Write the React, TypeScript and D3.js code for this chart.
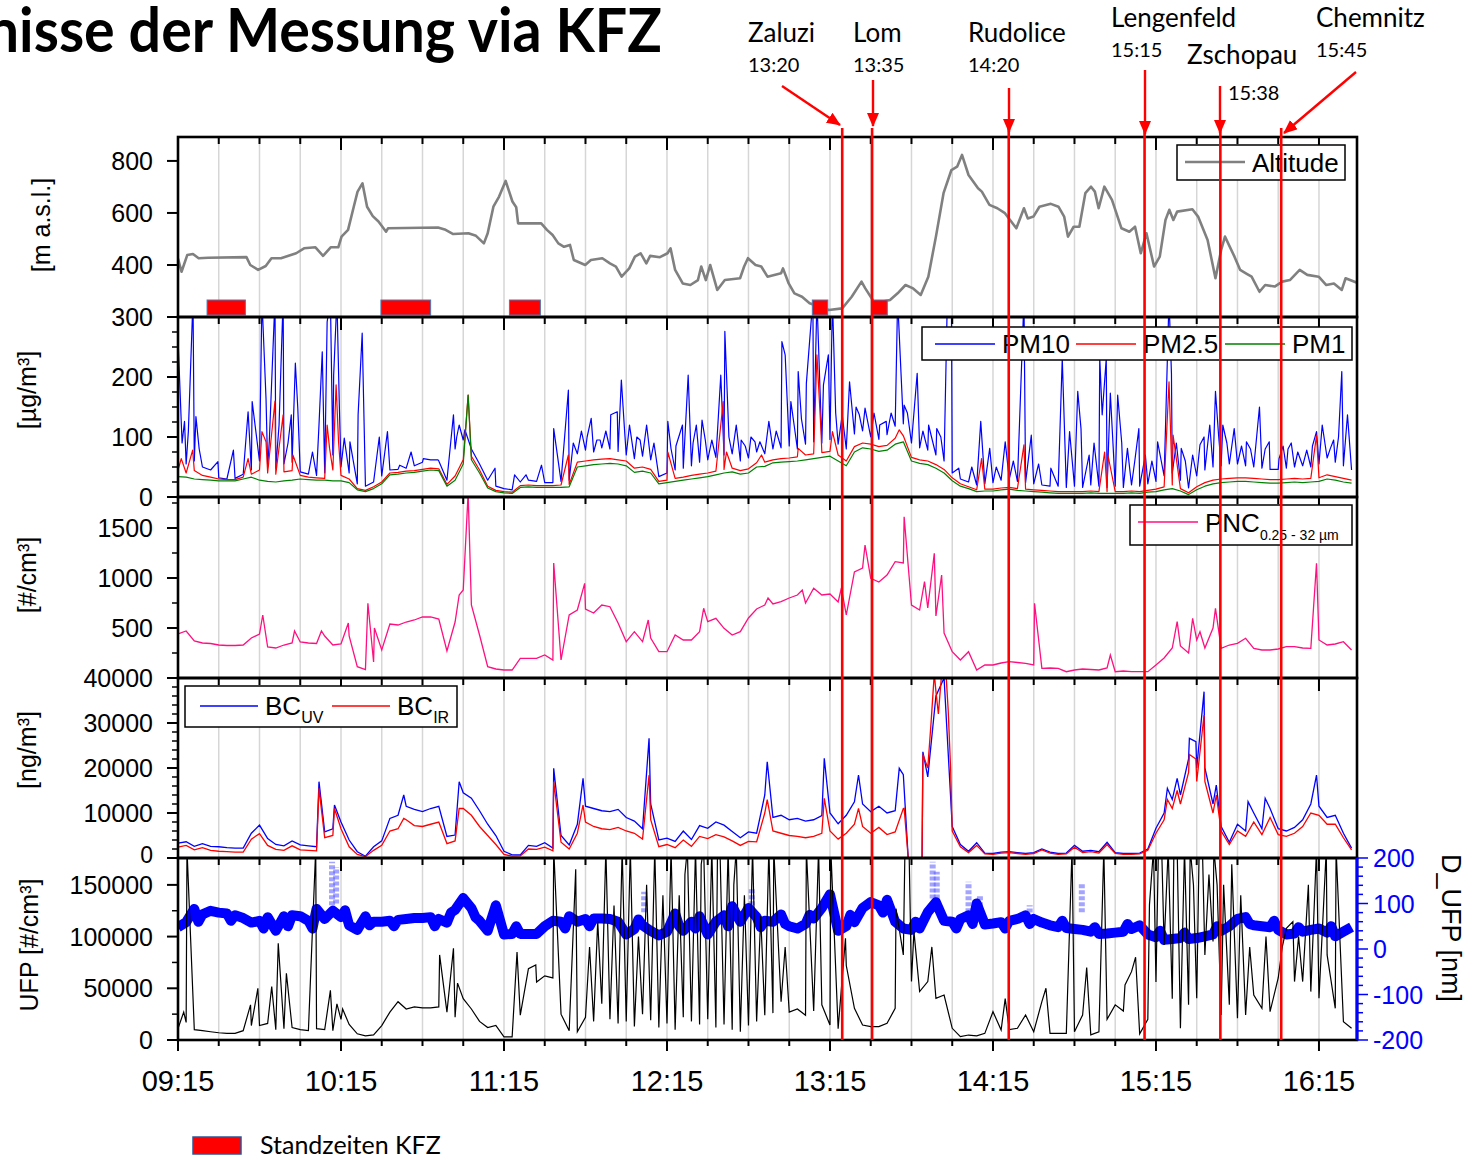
import React from 'react';
import * as d3 from 'd3';

type Pt = [number, number];

// Sampled series hold one value every 3 minutes, index 0 = 09:15.
const SAMPLE_MINUTES = 3;
const SPAN_MINUTES = 434; // 09:15 .. 16:29

const hourLabels = ['09:15', '10:15', '11:15', '12:15', '13:15', '14:15', '15:15', '16:15'];

// Altitude track: [minutes after 09:15, m a.s.l.]
const altitudeTrack: Pt[] = [
  [0, 425], [1.3, 374], [3.4, 438], [5.5, 442], [7.6, 426], [11.1, 428], [25.2, 430], [26.6, 400], [29.5, 381],
  [32.3, 396], [34.4, 426], [37.9, 426], [43.5, 445], [46.4, 464], [50.6, 468], [53.4, 435], [56.2, 468], [59.0, 468],
  [60.2, 509], [62.6, 535], [64.7, 624], [66.1, 682], [67.9, 714], [69.6, 624], [71.7, 588], [73.8, 567], [76.6, 528],
  [77.3, 541], [95.7, 544], [98.5, 535], [101.3, 519], [106.9, 522], [109.7, 512], [112.6, 483], [114.0, 522],
  [116.1, 624], [118.2, 663], [120.6, 723], [123.1, 644], [124.5, 622], [125.2, 560], [133.7, 560], [135.8, 535],
  [137.9, 515], [140.0, 483], [142.1, 470], [144.3, 477], [145.7, 419], [149.9, 400], [152.0, 419], [156.2, 426],
  [159.0, 406], [161.2, 394], [163.3, 355], [166.1, 387], [168.2, 432], [170.3, 445], [172.4, 406], [173.8, 435],
  [177.4, 430], [180.2, 445], [181.3, 464], [183.0, 381], [185.8, 329], [188.6, 323], [191.4, 342], [192.6, 394],
  [194.3, 342], [195.9, 400], [198.5, 304], [201.3, 342], [206.9, 349], [208.4, 394], [209.8, 426], [212.6, 400],
  [214.7, 394], [217.0, 355], [222.0, 368], [222.7, 387], [224.8, 329], [226.9, 291], [229.7, 278], [232.5, 253],
  [239.6, 227], [244.5, 233], [248.0, 278], [251.6, 336], [253.0, 310], [256.5, 253], [262.1, 265], [264.9, 291],
  [267.8, 323], [270.6, 310], [273.4, 285], [276.2, 355], [279.0, 509], [281.8, 676], [284.7, 765], [286.8, 778],
  [288.6, 823], [291.0, 746], [294.5, 695], [295.9, 682], [298.7, 631], [301.6, 618], [304.4, 599], [308.6, 541],
  [311.4, 618], [312.8, 579], [314.9, 586], [317.1, 624], [321.3, 635], [324.1, 624], [326.2, 586], [327.6, 509],
  [329.7, 547], [331.8, 547], [334.0, 676], [336.1, 701], [337.5, 682], [338.9, 618], [341.0, 701], [343.8, 650],
  [347.3, 541], [350.2, 528], [352.3, 547], [354.4, 445], [356.5, 522], [359.3, 394], [361.4, 432], [363.5, 573],
  [364.9, 612], [366.4, 573], [367.8, 605], [373.4, 614], [375.5, 586], [379.0, 496], [381.9, 349], [384.0, 458],
  [385.4, 509], [388.9, 432], [391.0, 381], [393.1, 368], [395.2, 355], [398.1, 297], [400.2, 323], [403.7, 317],
  [406.5, 336], [409.3, 342], [412.9, 381], [415.7, 362], [419.9, 355], [422.7, 323], [425.5, 329], [428.4, 304],
  [429.8, 349], [434.0, 332],
];

// Vehicle standing times: [start, end] in minutes after 09:15
const standIntervals: Pt[] = [[10.7, 24.8], [74.7, 93.0], [122.0, 133.4], [233.5, 239.2], [255.3, 261.1]];

// Places passed: minutes after 09:15 where the marker is drawn
const places = [
  { name: 'Zaluzi', time: '13:20', at: 244.5 },
  { name: 'Lom', time: '13:35', at: 255.5 },
  { name: 'Rudolice', time: '14:20', at: 305.8 },
  { name: 'Lengenfeld', time: '15:15', at: 355.8 },
  { name: 'Zschopau', time: '15:38', at: 383.7 },
  { name: 'Chemnitz', time: '15:45', at: 406.1 },
];

// Particulate matter [µg/m³]; peaks are [sample index, value]
const pm10 = [
  70, 55, 60, 50, 45, 32, 30, 31, 38, 45, 60, 50, 48, 55, 58, 42, 38, 36, 40, 70, 50, 40, 22, 18, 25,
  35, 45, 46, 48, 52, 58, 62, 60, 28, 80, 95, 80, 55, 28, 18, 14, 12, 25, 28, 26, 24, 24, 26, 28, 72,
  78, 75, 82, 80, 76, 70, 64, 68, 62, 34, 40, 45, 48, 52, 58, 62, 66, 70, 72, 60, 65, 75, 72, 80, 82,
  85, 80, 88, 92, 90, 96, 88, 80, 105, 110, 100, 96, 104, 118, 122, 90, 82, 78, 70, 60, 40, 30, 25, 20, 22,
  24, 28, 30, 26, 24, 22, 20, 18, 18, 16, 18, 16, 20, 18, 16, 18, 16, 20, 18, 22, 26, 35, 40, 28, 15,
  35, 45, 50, 52, 55, 55, 52, 50, 48, 46, 46, 48, 50, 52, 50, 55, 65, 58, 52, 45,
];
const pm10Peaks: Pt[] = [
  [0.05, 248], [0.5, 90], [0.8, 126], [1.27, 109], [1.84, 330], [2.2, 134], [2.6, 80], [4.9, 59], [6.8, 78], [8.6, 142], [9.1, 159],
  [10.3, 330], [10.8, 164], [11.2, 92], [11.9, 330], [12.4, 120], [12.9, 330], [13.5, 90], [13.9, 137], [14.4, 223], [14.7, 148],
  [16.5, 75], [17.3, 120], [17.7, 242], [18.3, 292], [18.7, 330], [19.1, 203], [19.5, 330], [19.8, 150], [20.4, 98], [21.1, 92], [22.1, 137], [22.6, 273],
  [24.7, 100], [25.7, 109], [27.2, 53], [28.6, 75], [30.1, 64], [31.9, 62], [33.8, 137], [34.2, 100], [34.5, 120], [35.2, 112],
  [38.9, 48], [41.3, 37], [42.7, 37], [44.6, 53], [46.1, 114], [47.9, 178], [48.5, 90], [49.5, 110], [50.2, 100], [50.7, 131],
  [51.4, 95], [51.8, 95], [52.5, 110], [53.1, 137], [53.9, 142], [54.4, 195], [54.8, 110], [55.4, 120], [56.3, 100], [56.7, 95], [57.5, 120], [58.4, 90], [60.1, 126],
  [60.5, 80], [61.1, 85], [61.9, 120], [62.6, 203], [63.2, 90], [63.6, 120], [64.3, 128], [64.7, 95], [65.5, 95], [66.2, 110], [66.6, 203], [67.1, 276], [67.6, 100], [68.5, 120],
  [69.1, 95], [69.6, 85], [70.3, 100], [70.8, 92], [71.4, 92], [72.5, 126], [73.4, 110], [74.1, 259], [74.5, 237], [75.2, 159], [75.6, 120], [76.1, 209], [76.5, 130], [77.1, 189],
  [77.9, 330], [78.4, 330], [79.2, 187], [79.8, 237], [80.3, 330], [80.7, 140], [81.5, 137], [82.4, 192], [83.2, 150], [83.6, 137], [84.3, 148], [85.4, 140],
  [86.1, 120], [86.9, 126], [87.5, 140], [88.3, 330], [89.1, 153], [89.5, 140], [90.7, 206], [91.4, 110], [92.1, 120], [93.1, 114], [93.6, 100], [94.4, 330], [94.9, 330],
  [95.8, 48], [97.4, 50], [98.5, 126], [99.6, 81], [100.4, 50], [101.5, 92], [102.5, 60], [103.8, 330], [104.7, 103], [105.6, 55], [107.1, 48], [108.5, 231], [109.4, 109],
  [110.4, 176], [110.8, 114], [111.8, 70], [112.4, 90], [113.1, 231], [113.4, 137], [113.9, 231], [114.4, 173], [115.3, 170], [115.8, 90],
  [116.5, 81], [117.4, 60], [117.9, 114], [118.7, 70], [119.5, 60], [120.2, 92], [121.2, 131], [121.6, 330], [121.9, 206], [122.5, 90], [123.1, 81], [123.6, 60], [124.5, 70],
  [125.4, 87], [125.9, 100], [126.6, 120], [127.3, 176], [127.7, 100], [128.2, 120], [128.7, 90], [129.6, 114], [130.5, 85], [131.1, 92], [131.6, 80], [132.7, 150], [133.4, 80], [133.9, 92],
  [135.1, 64], [135.6, 85], [136.2, 80], [136.6, 90], [137.4, 75], [138.5, 78], [139.2, 85], [139.7, 109], [140.4, 120], [141.4, 81], [141.8, 95], [142.4, 100], [142.8, 209], [143.5, 137],
];
const pm25 = [
  45, 40, 44, 36, 33, 30, 29, 29, 33, 38, 45, 40, 38, 42, 44, 36, 33, 32, 31, 45, 36, 30, 14, 11, 17,
  25, 40, 41, 43, 44, 46, 48, 47, 21, 35, 62, 68, 45, 18, 11, 9, 8, 19, 20, 19, 19, 19, 20, 21, 58,
  60, 62, 63, 64, 62, 60, 48, 50, 46, 26, 28, 31, 33, 36, 38, 40, 43, 46, 48, 44, 47, 57, 58, 62, 64,
  65, 67, 70, 72, 74, 76, 70, 60, 84, 90, 88, 84, 86, 98, 102, 66, 62, 60, 54, 46, 32, 22, 17, 12, 13,
  13, 15, 16, 14, 13, 12, 11, 10, 9, 9, 9, 9, 10, 9, 9, 9, 9, 10, 9, 11, 13, 17, 20, 14, 7,
  17, 24, 28, 30, 31, 32, 32, 31, 30, 29, 29, 30, 31, 30, 31, 32, 37, 34, 31, 28,
];
const pm25Peaks: Pt[] = [
  [0.4, 64], [1.8, 78], [8.6, 64], [10.3, 109], [10.8, 92], [11.9, 160], [12.9, 137], [14.1, 70], [18.3, 120],
  [18.6, 81], [19.4, 187], [19.7, 92], [35.6, 170], [47.9, 70], [60.1, 75], [66.9, 159], [67.3, 75], [71.6, 70],
  [76.1, 81], [78.4, 237], [78.9, 109], [80.3, 109], [88.5, 112], [98.6, 64], [103.8, 87], [113.7, 75], [114.1, 70],
  [121.6, 192], [122.1, 103], [139.7, 103],
];
const pm1 = [
  34, 33, 30, 29, 28, 27, 27, 27, 30, 33, 28, 26, 25, 27, 28, 30, 29, 28, 28, 27, 27, 24, 12, 9, 14,
  22, 37, 38, 40, 41, 43, 45, 44, 18, 28, 55, 62, 40, 15, 9, 7, 6, 16, 17, 16, 16, 16, 16, 17, 50,
  52, 54, 55, 56, 55, 52, 41, 43, 40, 22, 24, 26, 28, 30, 32, 34, 37, 40, 42, 38, 40, 50, 51, 57, 58,
  59, 60, 62, 64, 66, 68, 60, 52, 75, 82, 80, 76, 78, 88, 92, 60, 56, 54, 48, 40, 27, 18, 14, 9, 10,
  10, 12, 13, 11, 10, 9, 8, 7, 6, 6, 6, 6, 7, 6, 6, 6, 6, 7, 6, 8, 9, 12, 14, 10, 4,
  12, 18, 22, 24, 25, 26, 26, 25, 24, 23, 23, 24, 25, 24, 25, 26, 30, 28, 25, 23,
];
const pm1Peaks: Pt[] = [[35.6, 170]];

// Particle number concentration 0.25–32 µm [#/cm³]
const pnc = [
  440, 470, 370, 350, 345, 330, 325, 325, 330, 400, 440, 310, 300, 330, 350, 360, 350, 345, 420, 330,
  340, 420, 113, 85, 160, 280, 540, 530, 560, 580, 610, 612, 590, 270, 560, 880, 730, 430, 113, 90,
  80, 80, 197, 197, 197, 230, 180, 180, 630, 680, 690, 650, 730, 713, 550, 363, 463, 363, 400, 263,
  263, 430, 380, 380, 463, 563, 597, 497, 430, 463, 600, 690, 730, 740, 763, 800, 830, 750, 897, 830,
  840, 760, 630, 1060, 1100, 997, 960, 1030, 1163, 1150, 730, 680, 700, 620, 450, 263, 180, 263, 80, 130,
  130, 150, 163, 155, 147, 130, 97, 100, 97, 63, 80, 90, 85, 80, 100, 63, 70, 63, 63, 63,
  130, 200, 300, 320, 250, 380, 300, 500, 297, 330, 347, 397, 297, 280, 280, 290, 313, 313, 300, 297,
  380, 330, 340, 363, 280,
];
const pncPeaks: Pt[] = [
  [10.4, 630], [14.3, 470], [17.6, 470], [20.9, 550], [23.3, 747], [24.1, 500], [34.5, 830], [35.6, 1850],
  [46.1, 1150], [49.9, 947], [57.7, 580], [64.5, 697], [72.4, 800], [76.6, 880], [81.4, 900], [84.3, 1330], [89.1, 1613], [91.6, 963], [92.8, 1247],
  [93.7, 1030], [105.1, 747], [114.4, 230], [122.6, 563], [124.5, 597], [125.4, 463], [127.3, 697], [139.7, 1147],
];

// Black carbon [ng/m³]
const bcUv = [
  3300, 3600, 2600, 3200, 2600, 2500, 2300, 2200, 2200, 5500, 7300, 4300, 3000, 2700, 3800, 2900, 2700, 2500, 5800, 6500,
  8000, 4000, 1400, 400, 2500, 3800, 8800, 9500, 11500, 10800, 10300, 11000, 11500, 4800, 5100, 14500, 13300, 10500, 7500, 5000,
  1500, 700, 700, 2800, 2600, 3400, 2200, 5000, 2900, 7500, 11500, 11000, 10500, 10300, 10800, 9000, 8200, 6500, 12000, 4000,
  4400, 3700, 6000, 4100, 7200, 6600, 8000, 7300, 5900, 4500, 5800, 5500, 14000, 9000, 9500, 8500, 8800, 8200, 8500, 9400,
  10000, 7600, 9500, 12500, 12000, 10300, 11500, 10000, 10500, 18500, 0, 0, 18000, 36000, 40000, 7000, 3000, 1500, 3400, 1100,
  1000, 1300, 1400, 1200, 1000, 1200, 2000, 1300, 1000, 1100, 2800, 1500, 1700, 1400, 3500, 1200, 1000, 1000, 1100, 2000,
  6600, 10000, 13000, 14000, 22000, 20000, 20000, 12000, 7000, 3500, 7500, 6000, 10000, 6500, 11000, 6500, 6000, 6800, 8500, 12000,
  11500, 9000, 9500, 5500, 2200,
];
const bcUvPeaks: Pt[] = [
  [17.3, 16960], [19.2, 11780], [27.7, 14000], [34.5, 16960], [46.1, 19930], [49.7, 17700], [57.8, 26590],
  [72.3, 21400], [79.3, 22150], [83.5, 18440], [88.5, 19930], [89.6, 0], [91.3, 0], [91.4, 23600],
  [121.4, 15480], [122.6, 17700], [124.1, 26590], [124.9, 25850], [125.9, 36960], [127.4, 16220],
  [131.3, 12520], [133.4, 13260], [139.7, 18440],
];
const bcIr = [
  2400, 2800, 1800, 2300, 1700, 1500, 1400, 1300, 1300, 4200, 5400, 2800, 1900, 1700, 2700, 1800, 1700, 1600, 4500, 5000,
  6500, 2500, 800, 300, 1700, 2800, 6000, 6500, 8500, 7200, 7000, 7500, 8000, 3200, 3800, 11000, 9500, 7000, 5000, 3000,
  800, 400, 500, 2000, 1900, 2400, 1600, 3500, 2000, 5500, 8000, 7000, 6500, 6300, 6800, 6000, 5500, 4200, 8500, 2500,
  3000, 2300, 4000, 2600, 4800, 4300, 5200, 4700, 3800, 2800, 3700, 3600, 10000, 6000, 5500, 5000, 4800, 4500, 4800, 5500,
  6000, 4200, 5500, 7500, 7000, 5500, 6800, 5200, 5800, 11000, 0, 0, 20000, 37000, 40000, 6000, 2500, 1200, 2800, 900,
  800, 1100, 1200, 1000, 800, 1000, 1800, 1100, 800, 900, 2400, 1200, 1400, 1100, 3000, 1000, 800, 800, 900, 1700,
  5500, 8500, 11000, 12000, 19000, 17000, 17000, 10000, 6000, 3000, 6000, 4800, 8000, 5200, 9000, 5200, 4800, 5500, 7000, 10000,
  9500, 7500, 7500, 4500, 1800,
];
const bcIrPeaks: Pt[] = [
  [17.3, 15480], [19.2, 11000], [27.7, 8810], [34.5, 11040], [46.1, 16960], [49.7, 11780], [57.8, 18440],
  [72.3, 13000], [79.3, 13260], [83.5, 11040], [89.1, 11040], [89.6, 0], [91.3, 0], [91.4, 23000], [92.4, 30000],
  [92.8, 41000], [93.3, 32000], [93.7, 41000], [94.2, 42000], [94.5, 33000], [94.8, 20000], [121.4, 13000],
  [122.6, 15000], [124.1, 23000], [124.9, 22000], [125.9, 31780], [127.4, 14000],
];

// Ultrafine particles [#/cm³]
const ufp = [
  11000, 17000, 10000, 9000, 8000, 7000, 6500, 6500, 9000, 14000, 14000, 16000, 10000, 11000, 12000, 10000, 9000, 11000, 10000, 9000,
  20000, 15000, 6000, 4000, 5000, 14000, 27000, 37000, 30000, 32000, 31000, 31000, 32000, 27000, 22000, 40000, 30000, 18000, 12000, 14000,
  3000, 3000, 24000, 69000, 56000, 62000, 60000, 25000, 9000, 8000, 22000, 18000, 35000, 20000, 16000, 18000, 13000, 25000, 19000, 12000,
  16000, 10000, 22000, 18000, 15000, 20000, 12000, 15000, 10000, 8000, 14000, 18000, 24000, 26000, 37000, 27000, 30000, 24000, 28000, 34000,
  14500, 11000, 72000, 30600, 14500, 12900, 12900, 16100, 30600, 82300, 56500, 46800, 56500, 40300, 43500, 11300, 3200, 4800, 4000, 6400,
  27400, 9700, 10000, 11300, 24200, 8000, 37100, 6400, 6400, 6400, 8000, 24200, 5000, 8000, 20000, 34000, 28000, 66100, 6000, 20000,
  56000, 92000, 40000, 11300, 34000, 40300, 82300, 95200, 24200, 34000, 21000, 24200, 43500, 30600, 27400, 60000, 108000, 56500, 56500, 46800,
  40300, 82300, 30600, 17700, 11300,
];
const ufpPeaks: Pt[] = [
  [0.7, 27000], [1.1, 185000], [8.9, 34000], [9.8, 50000], [11.5, 51600], [12.3, 93600], [13.3, 64500], [16.9, 185000],
  [18.7, 48000], [19.5, 35000], [20.2, 30000], [32.1, 82300], [33.8, 88700], [34.3, 55000], [41.6, 85000], [43.9, 72600],
  [46.1, 185000], [48.8, 165000], [50.5, 90000], [51.5, 115000], [52.5, 185000], [53.5, 130000], [54.5, 185000],
  [55.5, 185000], [56.5, 100000], [57.5, 150000], [58.5, 185000], [59.5, 140000], [60.5, 185000], [61.5, 140000],
  [62.2, 160000], [62.5, 185000], [63.5, 185000], [64.2, 170000], [64.5, 185000], [65.5, 185000], [66.2, 185000],
  [66.5, 185000], [67.5, 185000], [68.2, 150000], [68.5, 185000], [69.5, 140000], [70.5, 185000], [71.5, 120000],
  [72.5, 185000], [73.1, 185000], [74.5, 90000], [77.1, 185000], [78.6, 185000], [80.1, 185000], [81.9, 98400],
  [88.1, 127000], [89.2, 185000], [89.7, 185000], [90.3, 105000], [92.5, 90000], [101.5, 40000], [106.5, 50000],
  [109.7, 185000], [111.5, 70000], [113.6, 185000], [116.2, 53200], [117.5, 80000], [119.2, 130700], [119.7, 185000],
  [120.3, 185000], [120.7, 185000], [121.5, 185000], [122.2, 185000], [122.6, 185000], [123.5, 185000], [124.2, 185000],
  [124.6, 150000], [125.3, 185000], [125.7, 185000], [126.5, 160000], [127.1, 185000], [127.5, 150000], [128.3, 150000],
  [129.3, 170000], [130.4, 140000], [131.5, 90000], [133.5, 100000], [135.5, 90000], [136.8, 114500], [137.5, 100000],
  [138.7, 150000], [139.7, 185000], [140.5, 120000], [140.9, 185000], [142.1, 185000],
];

// Mean UFP diameter [nm]
const dUfp = [
  48, 59, 88, 76, 84, 80, 78, 74, 68, 58, 62, 70, 40, 72, 74, 72, 62, 88, 66, 84, 70, 52, 42, 72, 60,
  60, 62, 64, 66, 68, 68, 70, 66, 58, 86, 112, 90, 62, 40, 96, 32, 33, 33, 33, 33, 50, 62, 60, 72, 60,
  66, 67, 67, 66, 60, 32, 44, 52, 40, 30, 38, 78, 40, 60, 72, 32, 60, 74, 94, 60, 90, 70, 62, 60, 76,
  50, 45, 55, 67, 90, 120, 40, 50, 59, 90, 103, 96, 108, 60, 45, 42, 45, 81, 103, 62, 60, 66, 74, 100, 54,
  56, 59, 62, 66, 74, 66, 58, 52, 48, 46, 44, 42, 38, 33, 34, 36, 38, 44, 52, 32, 26, 20, 22, 24, 22,
  24, 28, 32, 40, 50, 66, 70, 52, 50, 48, 42, 32, 34, 38, 42, 45, 36, 28, 38, 48,
];
// Short diameter excursions: [sample index, value]
const dUfpPeaks: Pt[] = [
  [2.5, 60], [6.5, 62], [10.5, 45], [13.5, 50], [16.5, 45], [20.5, 85], [23.5, 52], [26.5, 50], [31.5, 50], [33.5, 80],
  [36.5, 70], [41.5, 50], [47.5, 45], [50.5, 50], [56.5, 65], [61.5, 50], [63.5, 45], [67.5, 50], [71.5, 48], [74.5, 55],
  [77.5, 75], [82.5, 75], [86.5, 80], [90.5, 60], [95.5, 45], [97.5, 55], [101.5, 45], [104.5, 55], [108.5, 62],
  [112.5, 48], [116.5, 55], [120.5, 40], [123.5, 36], [127.5, 50], [131.5, 55], [134.5, 62], [137.5, 48], [141.5, 50],
];
// Isolated diameter readings: [sample index, low, high]
const dUfpScatter: [number, number, number][] = [
  [18.9, 96, 192], [19.4, 100, 180], [57.2, 81, 126], [70.4, 96, 133], [92.6, 111, 192], [93.1, 111, 170],
  [97.0, 81, 148], [98.4, 81, 118], [104.5, 80, 96], [110.9, 81, 144],
];

// Axis ticks
const altTicks = [400, 600, 800];
const pmTicks = [0, 100, 200, 300];
const pncTicks = [500, 1000, 1500];
const bcTicks = [0, 10000, 20000, 30000, 40000];
const ufpTicks = [0, 50000, 100000, 150000];
const dTicks = [-200, -100, 0, 100, 200];

// ---------------------------------------------------------------------------

const X0 = 178;
const X1 = 1357;
const P = {
  alt: [137, 317],
  pm: [317, 497],
  pnc: [497, 678],
  bc: [678, 858],
  ufp: [858, 1040],
} as const;

const x = d3.scaleLinear().domain([0, SPAN_MINUTES]).range([X0, X1]);
const yAlt = d3.scaleLinear().domain([200, 892]).range([P.alt[1], P.alt[0]]);
const yPm = d3.scaleLinear().domain([0, 300]).range([P.pm[1], P.pm[0]]);
const yPnc = d3.scaleLinear().domain([0, 1810]).range([P.pnc[1], P.pnc[0]]);
const yBc = d3.scaleLinear().domain([0, 40000]).range([P.bc[1], P.bc[0]]);
const yUfp = d3.scaleLinear().domain([0, 176000]).range([P.ufp[1], P.ufp[0]]);
const yD = d3.scaleLinear().domain([-200, 200]).range([P.ufp[1], P.ufp[0]]);

const withPeaks = (base: number[], peaks: Pt[]): Pt[] =>
  [...base.map((v, i) => [i, v] as Pt), ...peaks]
    .sort((a, b) => a[0] - b[0])
    .map(([i, v]) => [i * SAMPLE_MINUTES, v] as Pt);

const linePath = (data: Pt[], y: d3.ScaleLinear<number, number>) =>
  d3.line<Pt>().x((d) => x(d[0])).y((d) => y(d[1]))(data) || '';

const SANS = '"Liberation Sans", Arial, sans-serif';
const CAL = 'Lato, "Open Sans", sans-serif';

const quarterMarks = d3.range(0, 421, 15);
const hourMarks = d3.range(0, 421, 60);

function LeftAxis({ y, major, minor, labels }: { y: d3.ScaleLinear<number, number>; major: number[]; minor: number[]; labels: number[] }) {
  return (
    <g>
      {minor.map((v) => (
        <line key={'n' + v} x1={X0 - 6} x2={X0} y1={y(v)} y2={y(v)} stroke="#000" strokeWidth={1.5} />
      ))}
      {major.map((v) => (
        <line key={'j' + v} x1={X0 - 11} x2={X0} y1={y(v)} y2={y(v)} stroke="#000" strokeWidth={2} />
      ))}
      {labels.map((v) => (
        <text key={'t' + v} x={X0 - 25} y={y(v)} dy="0.36em" textAnchor="end" fontSize={25} fontFamily={SANS}>
          {v}
        </text>
      ))}
    </g>
  );
}

function TopTicks({ top }: { top: number }) {
  return (
    <g>
      {quarterMarks.map((m) => (
        <line key={m} x1={x(m)} x2={x(m)} y1={top} y2={top + (m % 60 === 0 ? 13 : 7)} stroke="#000" strokeWidth={2} />
      ))}
    </g>
  );
}

export default function App() {
  const pm10Line = withPeaks(pm10, pm10Peaks);
  const pm25Line = withPeaks(pm25, pm25Peaks);
  const pm1Line = withPeaks(pm1, pm1Peaks);
  const pncLine = withPeaks(pnc, pncPeaks);
  const bcUvLine = withPeaks(bcUv, bcUvPeaks);
  const bcIrLine = withPeaks(bcIr, bcIrPeaks);
  const ufpLine = withPeaks(ufp, ufpPeaks);
  const dLine = withPeaks(dUfp, dUfpPeaks);

  const panelKeys = Object.keys(P) as (keyof typeof P)[];

  const arrows: Record<string, { name: [number, number]; time: [number, number]; from: [number, number]; to: [number, number] }> = {
    Zaluzi: { name: [748, 42], time: [748, 72], from: [782, 86], to: [840, 125] },
    Lom: { name: [853, 42], time: [853, 72], from: [873, 80], to: [873, 126] },
    Rudolice: { name: [968, 42], time: [968, 72], from: [1009, 88], to: [1009, 132] },
    Lengenfeld: { name: [1111, 27], time: [1111, 57], from: [1145, 70], to: [1145, 134] },
    Zschopau: { name: [1187, 64], time: [1228, 100], from: [1220, 86], to: [1220, 133] },
    Chemnitz: { name: [1316, 27], time: [1316, 57], from: [1356, 72], to: [1284, 133] },
  };

  return (
    <div style={{ position: 'absolute', left: 0, top: 0 }}>
      <svg width={1474} height={1160} viewBox="0 0 1474 1160" style={{ display: 'block', background: '#fff' }}>
        <defs>
          {panelKeys.map((k) => (
            <clipPath id={'clip-' + k} key={k}>
              <rect x={X0} y={P[k][0]} width={X1 - X0} height={P[k][1] - P[k][0]} />
            </clipPath>
          ))}
          <marker id="head" viewBox="0 0 14 12" refX={13} refY={6} markerWidth={14} markerHeight={12} markerUnits="userSpaceOnUse" orient="auto">
            <path d="M0,0 L14,6 L0,12 Z" fill="#ff0000" />
          </marker>
        </defs>

        {/* title */}
        <text transform="translate(662,52) scale(0.94,1)" textAnchor="end" fontFamily={CAL} fontWeight={700} fontSize={61}>
          Ergebnisse der Messung via KFZ
        </text>

        {/* grid */}
        {panelKeys.map((k) => (
          <g key={'g' + k}>
            {quarterMarks.slice(1).map((m) => (
              <line key={m} x1={x(m)} x2={x(m)} y1={P[k][0]} y2={P[k][1]} stroke="#d6d6d6" strokeWidth={1.5} />
            ))}
          </g>
        ))}

        {/* altitude */}
        <g clipPath="url(#clip-alt)">
          <path d={linePath(altitudeTrack, yAlt)} fill="none" stroke="#808080" strokeWidth={2.6} strokeLinejoin="round" />
          {standIntervals.map(([a, b], i) => (
            <rect key={i} x={x(a)} y={P.alt[1] - 17} width={x(b) - x(a)} height={15} fill="#ff0000" stroke="#4a7ab5" strokeWidth={1} />
          ))}
        </g>

        {/* particulate matter */}
        <g clipPath="url(#clip-pm)" fill="none" strokeWidth={1.2} strokeLinejoin="round">
          <path d={linePath(pm10Line, yPm)} stroke="#0000ff" />
          <path d={linePath(pm25Line, yPm)} stroke="#ff0000" />
          <path d={linePath(pm1Line, yPm)} stroke="#008000" />
        </g>

        {/* particle number */}
        <g clipPath="url(#clip-pnc)" fill="none" strokeWidth={1.3}>
          <path d={linePath(pncLine, yPnc)} stroke="#ff1080" />
        </g>

        {/* black carbon */}
        <g clipPath="url(#clip-bc)" fill="none" strokeWidth={1.3}>
          <path d={linePath(bcUvLine, yBc)} stroke="#0000ff" />
          <path d={linePath(bcIrLine, yBc)} stroke="#ff0000" />
        </g>

        {/* ultrafine particles + diameter */}
        <g clipPath="url(#clip-ufp)" fill="none">
          {dUfpScatter.map(([i, lo, hi], k) => (
            <line key={k} x1={x(i * SAMPLE_MINUTES)} x2={x(i * SAMPLE_MINUTES)} y1={yD(lo)} y2={yD(hi)} stroke="#5a5aff" strokeOpacity={0.55} strokeWidth={6} strokeDasharray="4 2" />
          ))}
          <path d={linePath(dLine, yD)} stroke="#0000ff" strokeWidth={10} strokeLinejoin="round" />
          <path d={linePath(ufpLine, yUfp)} stroke="#000" strokeWidth={1.2} />
        </g>

        {/* panel frames */}
        {panelKeys.map((k) => (
          <rect key={'f' + k} x={X0} y={P[k][0]} width={X1 - X0} height={P[k][1] - P[k][0]} fill="none" stroke="#000" strokeWidth={2.6} />
        ))}
        <line x1={X1} x2={X1} y1={P.ufp[0]} y2={P.ufp[1]} stroke="#0000ff" strokeWidth={3} />
        {panelKeys.map((k) => (
          <TopTicks key={'tt' + k} top={P[k][0]} />
        ))}

        {/* left axes */}
        <LeftAxis y={yAlt} major={altTicks} minor={[]} labels={altTicks} />
        <LeftAxis y={yPm} major={pmTicks} minor={d3.range(25, 300, 25).filter((v) => v % 100 !== 0)} labels={pmTicks} />
        <LeftAxis y={yPnc} major={[0, ...pncTicks]} minor={d3.range(250, 1810, 500)} labels={pncTicks} />
        <LeftAxis y={yBc} major={bcTicks} minor={d3.range(2000, 40000, 2000).filter((v) => v % 10000 !== 0)} labels={bcTicks.slice(1)} />
        <LeftAxis y={yUfp} major={ufpTicks} minor={[25000, 75000, 125000]} labels={ufpTicks} />
        {/* zero of the black-carbon axis sits tight against the UFP scale */}
        <text x={X0 - 25} y={yBc(0) + 5} textAnchor="end" fontSize={23} fontFamily={SANS}>
          {bcTicks[0]}
        </text>

        {/* right diameter axis */}
        <g>
          {d3.range(-200, 201, 20).map((v) => (
            <line key={v} x1={X1} x2={X1 + (v % 100 === 0 ? 11 : 6)} y1={yD(v)} y2={yD(v)} stroke="#0000ff" strokeWidth={1.5} />
          ))}
          {dTicks.map((v) => (
            <text key={'d' + v} x={X1 + 16} y={yD(v)} dy="0.36em" fontSize={25} fontFamily={SANS} fill="#0000ff">
              {v}
            </text>
          ))}
          <text transform="translate(1442,928) rotate(90)" textAnchor="middle" fontSize={27} fontFamily={SANS}>
            D_UFP [nm]
          </text>
        </g>

        {/* bottom time axis */}
        <g>
          {quarterMarks.map((m) => (
            <line key={m} x1={x(m)} x2={x(m)} y1={P.ufp[1]} y2={P.ufp[1] + (m % 60 === 0 ? 11 : 6)} stroke="#000" strokeWidth={2} />
          ))}
          {hourMarks.map((m, i) => (
            <text key={m} x={x(m)} y={1091} textAnchor="middle" fontSize={29} fontFamily={SANS}>
              {hourLabels[i]}
            </text>
          ))}
        </g>

        {/* axis titles */}
        <g fontFamily={SANS} fontSize={25} textAnchor="middle">
          <text transform="translate(50,225) rotate(-90)">[m a.s.l.]</text>
          <text transform="translate(36,390) rotate(-90)">[µg/m³]</text>
          <text transform="translate(36,575) rotate(-90)">[#/cm³]</text>
          <text transform="translate(36,750) rotate(-90)">[ng/m³]</text>
          <text transform="translate(38,945) rotate(-90)">UFP [#/cm³]</text>
        </g>

        {/* legends */}
        <g fontFamily={SANS} fontSize={26}>
          <rect x={1177} y={145} width={168} height={35} fill="#fff" stroke="#000" strokeWidth={1.5} />
          <line x1={1185} x2={1245} y1={162} y2={162} stroke="#808080" strokeWidth={2.6} />
          <text x={1252} y={172}>Altitude</text>

          <rect x={922} y={327} width={430} height={33} fill="#fff" stroke="#000" strokeWidth={1.5} />
          <line x1={935} x2={995} y1={344} y2={344} stroke="#0000ff" strokeWidth={1.5} />
          <text x={1002} y={353}>PM10</text>
          <line x1={1076} x2={1136} y1={344} y2={344} stroke="#ff0000" strokeWidth={1.5} />
          <text x={1143} y={353}>PM2.5</text>
          <line x1={1225} x2={1285} y1={344} y2={344} stroke="#008000" strokeWidth={1.5} />
          <text x={1292} y={353}>PM1</text>

          <rect x={1130} y={505} width={222} height={40} fill="#fff" stroke="#000" strokeWidth={1.5} />
          <line x1={1138} x2={1198} y1={522} y2={522} stroke="#ff1080" strokeWidth={1.5} />
          <text x={1205} y={532}>
            PNC<tspan dy={8} fontSize={14}>0.25 - 32 µm</tspan>
          </text>

          <rect x={185} y={686} width={272} height={41} fill="#fff" stroke="#000" strokeWidth={1.5} />
          <line x1={200} x2={258} y1={706} y2={706} stroke="#0000ff" strokeWidth={1.5} />
          <text x={265} y={715}>
            BC<tspan dy={8} fontSize={16}>UV</tspan>
          </text>
          <line x1={332} x2={390} y1={706} y2={706} stroke="#ff0000" strokeWidth={1.5} />
          <text x={397} y={715}>
            BC<tspan dy={8} fontSize={16}>IR</tspan>
          </text>
        </g>

        {/* place markers */}
        {places.map((p) => {
          const a = arrows[p.name];
          return (
            <g key={p.name}>
              <line x1={x(p.at)} x2={x(p.at)} y1={128} y2={P.ufp[1]} stroke="#ff0000" strokeWidth={2.6} />
              <line x1={a.from[0]} y1={a.from[1]} x2={a.to[0]} y2={a.to[1]} stroke="#ff0000" strokeWidth={2.4} markerEnd="url(#head)" />
              <text x={a.name[0]} y={a.name[1]} fontFamily={CAL} fontSize={26}>
                {p.name}
              </text>
              <text x={a.time[0]} y={a.time[1]} fontFamily={CAL} fontSize={20}>
                {p.time}
              </text>
            </g>
          );
        })}

        {/* stand legend */}
        <rect x={193} y={1137} width={48} height={17} fill="#ff0000" stroke="#2f5597" strokeWidth={1.5} />
        <text x={260} y={1154} fontFamily={CAL} fontSize={25}>
          Standzeiten KFZ
        </text>
      </svg>
    </div>
  );
}
